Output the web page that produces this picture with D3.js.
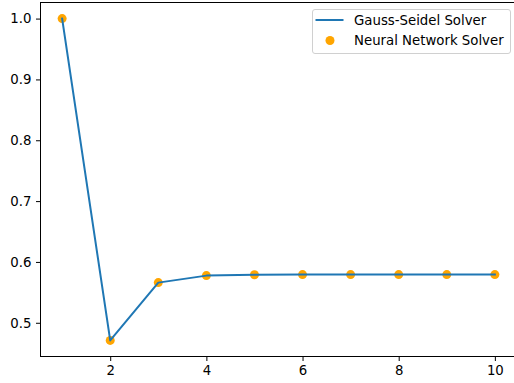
<!DOCTYPE html>
<html>
<head>
<meta charset="utf-8">
<script src="https://cdn.jsdelivr.net/npm/d3@7"></script>
<style>
  html, body { margin: 0; padding: 0; background: #fff; }
  svg { display: block; font-family: "DejaVu Sans", sans-serif; }
</style>
</head>
<body>
<svg id="chart" width="514" height="383"></svg>
<script>
// Iteration index and the value reached by each solver
const iterations = [1, 2, 3, 4, 5, 6, 7, 8, 9, 10];
const gaussSeidel = [1.0, 0.471, 0.566, 0.5775, 0.579, 0.5792, 0.5792, 0.5792, 0.5792, 0.5792];
const neuralNet   = [1.0, 0.471, 0.566, 0.5775, 0.579, 0.5792, 0.5792, 0.5792, 0.5792, 0.5792];
const xTicks = [2, 4, 6, 8, 10];
const yTicks = [0.5, 0.6, 0.7, 0.8, 0.9, 1.0];
const seriesNames = ["Gauss-Seidel Solver", "Neural Network Solver"];

const svg = d3.select("#chart");
const plot = { left: 40.5, top: 2.5, right: 516.5, bottom: 356.5 };
const fontSize = "13.3px";
const dotRadius = 4.5;

// 5% padding around the data extent on both axes
const xMin = d3.min(iterations), xMax = d3.max(iterations);
const xPad = (xMax - xMin) * 0.05;
const allY = gaussSeidel.concat(neuralNet);
const yMin = d3.min(allY), yMax = d3.max(allY);
const yPad = (yMax - yMin) * 0.05;

const x = d3.scaleLinear().domain([xMin - xPad, xMax + xPad]).range([plot.left, plot.right]);
const y = d3.scaleLinear().domain([yMin - yPad, yMax + yPad]).range([plot.bottom, plot.top]);

// Scatter of the network's predictions (below the line)
svg.append("g").selectAll("circle")
  .data(iterations)
  .join("circle")
  .attr("cx", (d) => x(d))
  .attr("cy", (d, i) => y(neuralNet[i]))
  .attr("r", dotRadius)
  .attr("fill", "#ffa500");

// Gauss-Seidel line
const line = d3.line().x((d) => x(d)).y((d, i) => y(gaussSeidel[i]));
svg.append("path")
  .datum(iterations)
  .attr("d", line)
  .attr("fill", "none")
  .attr("stroke", "#1f77b4")
  .attr("stroke-width", 2)
  .attr("stroke-linejoin", "round")
  .attr("stroke-linecap", "square");

// Axes
const xAxis = svg.append("g")
  .attr("transform", `translate(0,${plot.bottom})`)
  .call(d3.axisBottom(x).tickValues(xTicks).tickFormat(d3.format("d")).tickSizeInner(4.5).tickSizeOuter(0).tickPadding(4.5));
const yAxis = svg.append("g")
  .attr("transform", `translate(${plot.left},0)`)
  .call(d3.axisLeft(y).tickValues(yTicks).tickFormat(d3.format(".1f")).tickSizeInner(4.5).tickSizeOuter(0).tickPadding(4.5));

[xAxis, yAxis].forEach((g) => {
  g.select(".domain").remove();
  g.selectAll(".tick line").attr("stroke", "#000").attr("stroke-width", 1);
  g.selectAll(".tick text").attr("fill", "#000").attr("font-size", fontSize)
    .attr("font-family", "DejaVu Sans, sans-serif");
});

// Plot frame
svg.append("rect")
  .attr("x", plot.left).attr("y", plot.top)
  .attr("width", plot.right - plot.left).attr("height", plot.bottom - plot.top)
  .attr("fill", "none").attr("stroke", "#000").attr("stroke-width", 1);

// Legend
const legend = svg.append("g").attr("transform", "translate(312.5,9.5)");
legend.append("rect")
  .attr("width", 198).attr("height", 44).attr("rx", 2.5)
  .attr("fill", "#fff").attr("fill-opacity", 0.8)
  .attr("stroke", "#d0d0d0").attr("stroke-width", 1);
legend.append("line")
  .attr("x1", 3).attr("x2", 31).attr("y1", 10.5).attr("y2", 10.5)
  .attr("stroke", "#1f77b4").attr("stroke-width", 2);
legend.append("circle")
  .attr("cx", 17.5).attr("cy", 31).attr("r", dotRadius).attr("fill", "#ffa500");
legend.selectAll("text.lbl")
  .data(seriesNames)
  .join("text")
  .attr("class", "lbl")
  .attr("x", 41.5)
  .attr("y", (d, i) => 15 + i * 20.5)
  .attr("font-size", fontSize)
  .attr("fill", "#000")
  .text((d) => d);
</script>
</body>
</html>
